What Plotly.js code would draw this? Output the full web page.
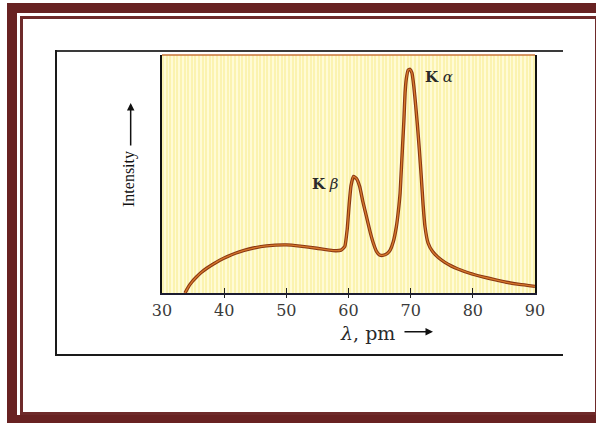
<!DOCTYPE html>
<html>
<head>
<meta charset="utf-8">
<script src="https://cdn.plot.ly/plotly-3.0.1.min.js"></script>
<style>
  html, body { margin: 0; padding: 0; background: #ffffff; }
  #wrap { position: relative; width: 596px; height: 423px; overflow: hidden; background: #fff; }
  .abs { position: absolute; }
  #stripes { left: 162px; top: 55px; width: 373px; height: 238px;
    background: repeating-linear-gradient(90deg, #fbf3b0 0px, #fbf3b0 2px, #fffbd6 2px, #fffbd6 3.6px); }
  #chart { position: absolute; left: 0; top: 0; width: 596px; height: 423px; }
</style>
</head>
<body>
<div id="wrap">
  <div class="abs" style="left:7px;top:3px;width:600px;height:10px;background:#682222;"></div>
  <div class="abs" style="left:7px;top:3px;width:10px;height:430px;background:#682222;"></div>
  <div class="abs" style="left:7px;top:415px;width:600px;height:10px;background:#682222;"></div>
  <div class="abs" style="left:20px;top:16px;width:572px;height:393px;border:3px solid #6e2a2a;"></div>
  <div class="abs" style="left:56px;top:50px;width:507px;height:2px;background:#3a3a3a;"></div>
  <div class="abs" style="left:55px;top:50px;width:2px;height:306px;background:#1a1a1a;"></div>
  <div class="abs" style="left:56px;top:354px;width:507px;height:2px;background:#1a1a1a;"></div>
  <div class="abs" id="stripes"></div>
  <div id="chart"></div>
</div>
<script>
// wavelength (pm)
const wavelength = [33.7, 34.2, 34.8, 35.5, 36.3, 37.2, 38.2, 39.3, 40.5, 41.8, 43.2, 44.7, 46.8, 50.0, 52.2, 54.9, 57.5, 58.8, 59.4, 59.8, 60.1, 60.4, 60.8, 61.3, 61.8, 62.3, 62.9, 63.5, 64.0, 64.5, 65.0, 65.5, 66.2, 66.7, 67.2, 67.7, 68.0, 68.3, 68.5, 68.7, 68.9, 69.1, 69.3, 69.6, 69.9, 70.2, 70.5, 70.8, 71.1, 71.4, 71.7, 72.0, 72.3, 72.8, 73.5, 74.5, 75.5, 76.5, 77.5, 79.5, 81.6, 83.5, 85.4, 87.5, 90.0];
// relative intensity
const intensity  = [0.0, 2.4, 4.6, 6.6, 8.6, 10.4, 12.1, 13.8, 15.3, 16.7, 17.9, 18.9, 19.8, 20.2, 19.7, 18.8, 17.8, 18.0, 19.5, 27.0, 37.0, 45.0, 49.0, 48.0, 44.7, 38.5, 32.0, 25.5, 20.9, 17.5, 16.0, 15.8, 16.5, 18.0, 21.5, 27.9, 34.0, 42.0, 52.0, 62.0, 72.0, 84.0, 90.0, 93.7, 94.0, 92.5, 87.0, 79.0, 70.0, 60.0, 49.0, 37.0, 28.0, 21.0, 17.5, 14.8, 12.9, 11.4, 10.2, 8.3, 6.8, 5.6, 4.5, 3.6, 2.8];
const tickValues = [30, 40, 50, 60, 70, 80, 90];
const tickLabels = ["30", "40", "50", "60", "70", "80", "90"];
const innerTicks = [40, 50, 60, 70, 80];
const peakNames = ["<b>K</b> <i>α</i>", "<b>K</b> <i>β</i>"];
const peakLabelX = [71.96, 53.8];
const peakLabelY = [90.8, 45.8];

const serif = "DejaVu Serif, Liberation Serif, serif";

const traces = [
  { x: wavelength, y: intensity, mode: "lines", type: "scatter",
    line: { color: "#8a3812", width: 3.4, shape: "spline", smoothing: 0.4 },
    hoverinfo: "skip", xaxis: "x", yaxis: "y" },
  { x: wavelength, y: intensity, mode: "lines", type: "scatter",
    line: { color: "#d7782c", width: 1.3, shape: "spline", smoothing: 0.4 },
    hoverinfo: "skip", xaxis: "x2", yaxis: "y" }
];

const annotations = peakNames.map((t, i) => ({
  x: peakLabelX[i], y: peakLabelY[i], xref: "x", yref: "y",
  text: t, showarrow: false, xanchor: "left", yanchor: "middle",
  font: { family: serif, size: 15, color: "#2a2a2a" }
}));
annotations.push(
  { xref: "paper", yref: "paper", x: -0.0885, y: 0.479, text: "Intensity",
    textangle: -90, showarrow: false, xanchor: "center", yanchor: "middle",
    font: { family: "Liberation Serif, serif", size: 16, color: "#111" } },
  { xref: "paper", yref: "paper", x: -0.084, y: 0.798, text: "",
    showarrow: true, ax: 0, ay: 44, arrowhead: 2, arrowsize: 1, arrowwidth: 1.5, arrowcolor: "#111" },
  { xref: "paper", yref: "paper", x: 0.63, y: -0.168, text: "<i>λ</i>, pm",
    showarrow: false, xanchor: "right", yanchor: "middle",
    font: { family: serif, size: 19, color: "#2a2a2a" } },
  { xref: "paper", yref: "paper", x: 0.7265, y: -0.163, text: "",
    showarrow: true, ax: -30, ay: 0, arrowhead: 2, arrowsize: 1, arrowwidth: 1.5, arrowcolor: "#111" }
);

const layout = {
  width: 596, height: 423, autosize: false,
  margin: { l: 162, r: 61, t: 55, b: 130, pad: 0 },
  paper_bgcolor: "rgba(0,0,0,0)", plot_bgcolor: "rgba(0,0,0,0)",
  showlegend: false,
  xaxis: { range: [30, 90], tickmode: "array", tickvals: tickValues, ticktext: tickLabels,
    ticks: "inside", ticklen: 5, tickwidth: 1.3, tickcolor: "#222",
    showline: true, linecolor: "#1c1c30", linewidth: 2, mirror: false,
    showgrid: false, zeroline: false, fixedrange: true,
    tickfont: { family: serif, size: 16, color: "#3a3a3a" }, ticklabelstandoff: 2 },
  xaxis2: { range: [30, 90], overlaying: "x", anchor: "y", side: "bottom",
    tickmode: "array", tickvals: innerTicks, ticks: "outside", ticklen: 4, tickwidth: 1.3, tickcolor: "#222",
    showticklabels: false, showline: false, showgrid: false, zeroline: false, fixedrange: true },
  yaxis: { range: [0, 100], showticklabels: false, ticks: "", showgrid: false, zeroline: false,
    showline: true, linecolor: "#111", linewidth: 2, mirror: true, fixedrange: true },
  shapes: [
    { type: "line", xref: "paper", yref: "paper", x0: 0, x1: 1, y0: 1, y1: 1,
      line: { color: "#c8763a", width: 1.5 } }
  ],
  annotations: annotations
};

Plotly.newPlot("chart", traces, layout, { displayModeBar: false, staticPlot: true });
</script>
</body>
</html>
